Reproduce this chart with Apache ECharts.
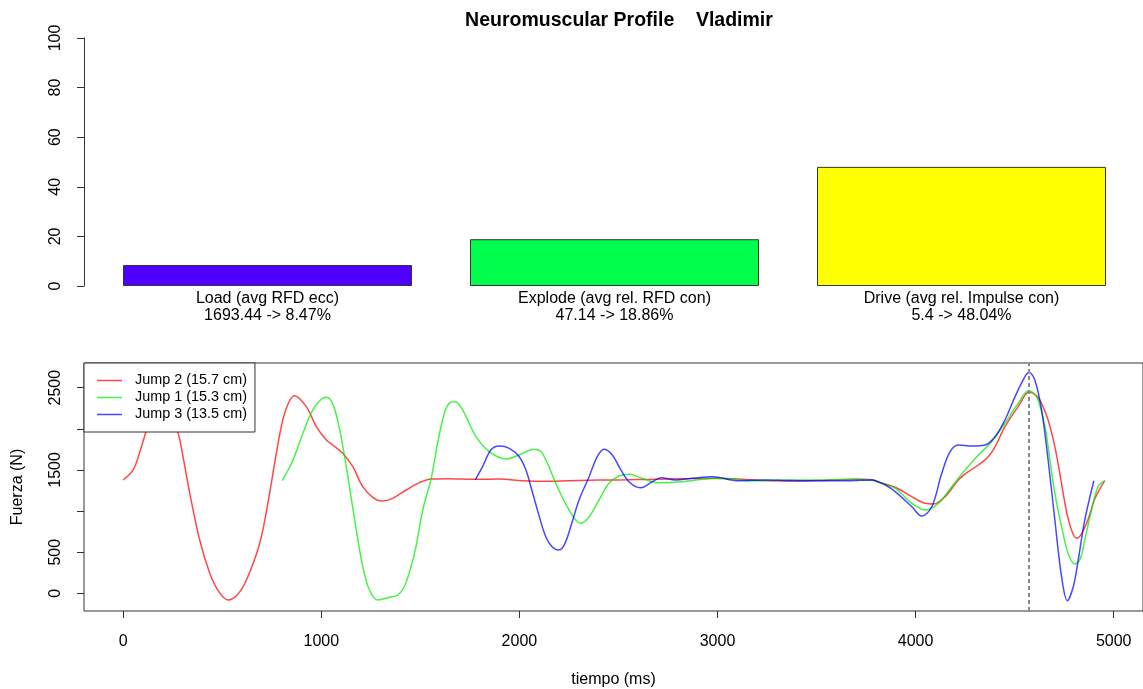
<!DOCTYPE html>
<html><head><meta charset="utf-8">
<script src="https://cdn.jsdelivr.net/npm/echarts@6/dist/echarts.min.js"></script>
<style>html,body{margin:0;padding:0;background:#fff}#c{width:1143px;height:689px}</style>
</head><body><div id="c"></div>
<script>
const titleText = 'Neuromuscular Profile    Vladimir';
const barCategories = ['Load (avg RFD ecc)', 'Explode (avg rel. RFD con)', 'Drive (avg rel. Impulse con)'];
const barRawValues = ['1693.44', '47.14', '5.4'];
const barPercents = [8.47, 18.86, 48.04];
const barColors = ['#5000FF', '#00FF4D', '#FFFF00'];

const jumpNames = ['Jump 2 (15.7 cm)', 'Jump 1 (15.3 cm)', 'Jump 3 (13.5 cm)'];
const jumpColors = ['rgba(255,0,0,0.72)', 'rgba(0,235,0,0.72)', 'rgba(0,0,255,0.72)'];

const jump2Time = [0, 50, 84, 118, 150, 195, 240, 272, 286, 336, 386, 437, 480, 528, 575, 622, 689, 739, 773, 815, 865, 924, 975, 1025, 1058, 1108, 1159, 1209, 1260, 1307, 1360, 1428, 1495, 1554, 1646, 1777, 1898, 2016, 2133, 2250, 2350, 2452, 2550, 2650, 2750, 2872, 2973, 3100, 3242, 3400, 3550, 3700, 3779, 3813, 3897, 3981, 4048, 4090, 4149, 4216, 4266, 4317, 4367, 4401, 4451, 4518, 4573, 4611, 4636, 4669, 4703, 4728, 4754, 4779, 4812, 4837, 4871, 4905, 4955];
const jump2Force = [1378, 1500, 1720, 1986, 2180, 2260, 2170, 1986, 1864, 1216, 648, 243, 30, -81, -20, 162, 608, 1216, 1702, 2189, 2403, 2269, 2026, 1864, 1803, 1702, 1540, 1296, 1167, 1122, 1155, 1256, 1345, 1390, 1394, 1386, 1390, 1369, 1361, 1369, 1375, 1378, 1380, 1385, 1390, 1395, 1400, 1390, 1370, 1365, 1375, 1386, 1380, 1350, 1289, 1175, 1094, 1086, 1175, 1378, 1479, 1560, 1661, 1780, 2026, 2269, 2444, 2400, 2310, 2107, 1783, 1459, 1094, 830, 669, 720, 900, 1150, 1369];

const jump1Time = [803, 857, 907, 957, 1000, 1025, 1058, 1092, 1126, 1142, 1176, 1209, 1243, 1285, 1344, 1386, 1419, 1453, 1478, 1512, 1554, 1587, 1621, 1646, 1676, 1713, 1781, 1848, 1932, 1999, 2074, 2116, 2184, 2251, 2310, 2352, 2402, 2452, 2503, 2553, 2620, 2696, 2822, 2922, 3040, 3158, 3300, 3410, 3550, 3678, 3779, 3813, 3897, 3981, 4048, 4115, 4182, 4250, 4317, 4384, 4451, 4518, 4571, 4611, 4653, 4678, 4703, 4737, 4770, 4804, 4829, 4854, 4888, 4921, 4955];
const jump1Force = [1369, 1621, 1945, 2229, 2360, 2383, 2300, 2000, 1540, 1300, 780, 330, 40, -81, -49, -21, 80, 324, 567, 1013, 1390, 1824, 2189, 2310, 2330, 2229, 1904, 1722, 1633, 1682, 1751, 1702, 1337, 1013, 851, 931, 1134, 1337, 1426, 1447, 1398, 1345, 1357, 1386, 1398, 1369, 1375, 1378, 1380, 1386, 1378, 1350, 1277, 1094, 1013, 1094, 1296, 1499, 1682, 1843, 2067, 2310, 2463, 2391, 2026, 1621, 1216, 810, 486, 356, 405, 648, 1013, 1296, 1369];

const jump3Time = [1777, 1814, 1856, 1898, 1949, 1999, 2033, 2058, 2091, 2133, 2167, 2197, 2226, 2259, 2301, 2352, 2393, 2427, 2469, 2503, 2553, 2612, 2671, 2713, 2789, 2872, 2973, 3107, 3242, 3350, 3477, 3662, 3779, 3847, 3897, 3981, 4031, 4082, 4132, 4174, 4216, 4283, 4350, 4401, 4451, 4502, 4552, 4573, 4602, 4636, 4669, 4703, 4737, 4766, 4796, 4821, 4854, 4900];
const jump3Force = [1378, 1540, 1743, 1791, 1763, 1661, 1499, 1296, 1013, 688, 559, 527, 587, 810, 1134, 1418, 1661, 1751, 1682, 1540, 1357, 1284, 1357, 1406, 1378, 1398, 1418, 1369, 1378, 1372, 1369, 1369, 1378, 1317, 1236, 1053, 940, 1053, 1459, 1722, 1803, 1791, 1803, 1904, 2107, 2391, 2634, 2683, 2594, 2229, 1621, 891, 202, -90, 80, 405, 891, 1369];

const barYTicks = [0, 20, 40, 60, 80, 100];
const timeTicks = [0, 1000, 2000, 3000, 4000, 5000];
const forceTicks = [0, 500, 1000, 1500, 2000, 2500];
const forceLabels = [0, 500, 1500, 2500];
const peakTimes = [4571];

const FONT = "'Liberation Sans', Arial, Helvetica, sans-serif";
const zip = (a, b) => a.map((v, i) => [v, b[i]]);
const plain = v => String(v);
const jumpTimes = [jump2Time, jump1Time, jump3Time];
const jumpForces = [jump2Force, jump1Force, jump3Force];

const chart = echarts.init(document.getElementById('c'), null, {renderer: 'canvas'});

const lineSeries = jumpNames.map((name, i) => ({
  name: name,
  type: 'line',
  xAxisIndex: 1,
  yAxisIndex: 1,
  data: zip(jumpTimes[i], jumpForces[i]),
  showSymbol: false,
  smooth: 0.35,
  lineStyle: {color: jumpColors[i], width: 1.5},
  itemStyle: {color: jumpColors[i]},
  z: 2 + i,
  markLine: i === 2 ? {
    silent: true,
    symbol: 'none',
    label: {show: false},
    lineStyle: {color: '#888', width: 2, type: [4, 3]},
    data: peakTimes.map(v => ({xAxis: v}))
  } : undefined
}));

chart.setOption({
  animation: false,
  textStyle: {fontFamily: FONT},
  title: {
    text: titleText,
    left: 614,
    top: 6,
    textAlign: 'center',
    textStyle: {fontSize: 19.5, fontWeight: 'bold', color: '#000', fontFamily: FONT}
  },
  legend: {
    data: jumpNames,
    orient: 'vertical',
    left: 84,
    top: 363,
    backgroundColor: '#fff',
    borderColor: '#333',
    borderWidth: 1,
    borderRadius: 0,
    padding: [9, 8, 9, 13],
    itemGap: 0,
    itemWidth: 25,
    itemHeight: 1.5,
    icon: 'rect',
    textStyle: {fontSize: 14.4, color: '#000', lineHeight: 17, padding: [0, 0, 0, 8], fontFamily: FONT},
    z: 10
  },
  grid: [
    {left: 94, top: 38, width: 1041, height: 248},
    {left: 84, top: 363, width: 1061, height: 248, show: true, borderColor: '#333', borderWidth: 1, backgroundColor: 'transparent'}
  ],
  xAxis: [
    {
      type: 'category',
      gridIndex: 0,
      data: barCategories.map((c, i) => c + '\n' + barRawValues[i] + ' -> ' + barPercents[i] + '%'),
      axisLine: {show: false},
      axisTick: {show: false},
      axisLabel: {margin: 4, fontSize: 16, lineHeight: 17, color: '#000', interval: 0}
    },
    {
      type: 'value',
      gridIndex: 1,
      min: -198,
      max: 5148,
      axisLine: {show: false, onZero: false},
      axisTick: {show: true, length: 7, customValues: timeTicks, lineStyle: {color: '#333'}},
      axisLabel: {customValues: timeTicks, margin: 23, fontSize: 16, color: '#000', formatter: plain},
      splitLine: {show: false},
      name: 'tiempo (ms)',
      nameLocation: 'middle',
      nameGap: 61,
      nameTextStyle: {fontSize: 16, color: '#000'}
    }
  ],
  yAxis: [
    {
      type: 'value',
      gridIndex: 0,
      min: 0,
      max: 100,
      interval: 20,
      offset: 10,
      axisLine: {show: true, onZero: false, lineStyle: {color: '#333'}},
      axisTick: {show: true, length: 7, lineStyle: {color: '#333'}},
      axisLabel: {rotate: 90, margin: 20, fontSize: 16, color: '#000', formatter: plain},
      splitLine: {show: false}
    },
    {
      type: 'value',
      gridIndex: 1,
      min: -215,
      max: 2800,
      axisLine: {show: false, onZero: false},
      axisTick: {show: true, length: 7, customValues: forceTicks, lineStyle: {color: '#333'}},
      axisLabel: {rotate: 90, margin: 20, fontSize: 16, color: '#000', customValues: forceLabels, formatter: plain},
      splitLine: {show: false},
      name: 'Fuerza (N)',
      nameLocation: 'middle',
      nameRotate: 90,
      nameGap: 58,
      nameTextStyle: {fontSize: 16, color: '#000'}
    }
  ],
  series: [
    {
      type: 'bar',
      xAxisIndex: 0,
      yAxisIndex: 0,
      barWidth: 289,
      data: barPercents.map((v, i) => ({value: v, itemStyle: {color: barColors[i], borderColor: '#333', borderWidth: 1}}))
    }
  ].concat(lineSeries)
});
</script>
</body></html>
